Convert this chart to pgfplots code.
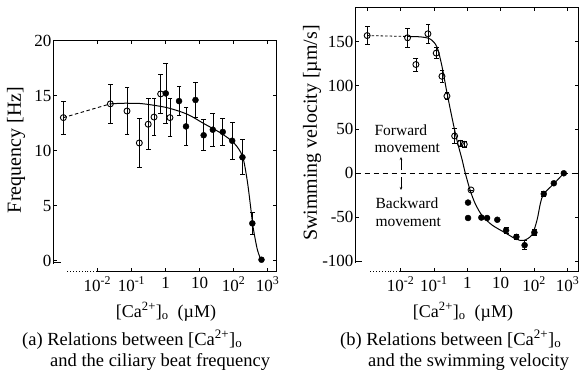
\documentclass[border=0pt]{standalone}
\usepackage{fontspec}
\setmainfont{Liberation Serif}
\usepackage{pgfplots}
\usepackage{pgfplotstable}
\pgfplotsset{compat=1.18}
\usetikzlibrary{arrows.meta}

% ---------- panel (a): ciliary beat frequency ----------
\pgfplotstableread{
x y e
0.001 13.0 1.5
0.024 14.25 1.8
0.074 13.6 2.1
0.17 10.7 2.2
0.31 12.4 2.3
0.46 13.05 1.7
0.72 15.15 1.8
1.35 13.0 1.7
}\aopen
\pgfplotstableread{
x y e
1.02 15.2 2.7
2.5 14.5 1.3
4.0 12.2 1.7
7.6 14.6 1.6
13.2 11.4 1.4
24.5 11.9 1.5
48 11.7 1.2
91 10.9 1.7
182 9.4 1.6
355 3.4 1.0
660 0.1 0
}\afilled
\pgfplotstableread{
x y
0.024 14.25
0.05 14.3
0.1 14.3
0.23 14.25
1.12 13.9
4.4 13.3
13.5 12.45
42 11.6
102 10.7
182 9.5
251 7.3
316 4.9
372 3.1
500 1.0
660 0
}\acurve

% ---------- panel (b): swimming velocity ----------
\pgfplotstableread{
x y e
0.001 157 10
0.0162 154.5 11
0.0288 124 7.5
0.066 159 11
0.117 137 6
0.174 110.6 6.5
0.245 88 4
0.417 42.5 9
0.617 34 3
0.81 33 3
1.29 -19 0
}\bopen
\pgfplotstableread{
x y e
1.05 -33.4 0
1.05 -51 0
2.63 -50.5 0
3.9 -51 0
7.9 -53 0
14.5 -65 3
29.5 -72.5 3
52 -82 5
102 -67.5 3
195 -23.5 3
390 -11.4 0
776 0 0
}\bfilled
\pgfplotstableread{
x y
0.0162 156
0.0398 155.5
0.0776 153
0.123 144
0.174 122
0.245 92
0.363 60
0.501 36
0.692 16
0.871 0
1.23 -20
1.74 -35
2.75 -48
5.5 -59
13.8 -68
28.8 -75
49 -76.6
87 -70
123 -53
155 -34
195 -23.5
389 -12
776 0
}\bcurve

\pgfplotsset{
  mypanel/.style={
    scale only axis, width=223pt, clip=false,
    axis line style={black, line width=1.2pt},
    tick align=inside, major tick length=3.5pt,
    xminorticks=false, yminorticks=false,
    tick style={line width=0.7pt, black},
    ticklabel style={font=\fontsize{17}{17}\selectfont},
    y tick label style={xshift=1.5pt},
    x tick label style={yshift=-2pt},
  },
  mybars/.style={error bars/y dir=both, error bars/y explicit,
    error bars/error mark=none,
    error bars/error bar style={line width=0.6pt}},
  myopen/.style={only marks, mark=o, mark size=3pt, line width=0.9pt,
    mark options={fill=white}, mybars},
  myfill/.style={only marks, mark=*, mark size=3pt, mybars},
  mycap/.style={black, only marks, mark=-, mark size=2.4pt, mark options={line width=0.8pt}},
}

\begin{document}
\begin{tikzpicture}
\useasboundingbox (0pt,0pt) rectangle (581pt,-373pt);

% ===== panel (a) =====
\begin{axis}[mypanel, xmode=log,
  at={(53.5pt,-271.5pt)}, anchor=south west, height=231pt,
  xmin=5.13e-4, xmax=1820, ymin=-0.97, ymax=20,
  xtick={1e-2,1e-1,1,10,100,1000},
  xticklabels={10\textsuperscript{-2},10\textsuperscript{-1},1,10,10\textsuperscript{2},10\textsuperscript{3}},
  ytick={0,5,10,15,20}, yticklabels={0,5,10,15,20},
]
\addplot[black, line width=0.9pt, dash pattern=on 3.5pt off 2.5pt] coordinates {(0.001,13.0) (0.024,14.25)};
\addplot[black, line width=1pt, smooth, tension=0.5] table {\acurve};
\addplot[mycap] table[x=x, y expr=\thisrow{y}+\thisrow{e}] {\aopen};
\addplot[mycap] table[x=x, y expr=\thisrow{y}-\thisrow{e}] {\aopen};
\addplot[mycap] table[x=x, y expr=\thisrow{y}+\thisrow{e}] {\afilled};
\addplot[mycap] table[x=x, y expr=\thisrow{y}-\thisrow{e}] {\afilled};
\addplot[black, myopen] table[x=x, y=y, y error=e] {\aopen};
\addplot[black, myfill] table[x=x, y=y, y error=e] {\afilled};
\end{axis}

% ===== panel (b) =====
\begin{axis}[mypanel, xmode=log,
  at={(355.5pt,-271.5pt)}, anchor=south west, height=264pt,
  xmin=4.47e-4, xmax=2138, ymin=-112, ymax=189,
  xtick={1e-3,1e-2,1e-1,1,10,100,1000},
  xticklabels={,10\textsuperscript{-2},10\textsuperscript{-1},1,10,10\textsuperscript{2},10\textsuperscript{3}},
  ytick={-100,-50,0,50,100,150}, yticklabels={-100,-50,0,50,100,150},
]
\addplot[black, line width=0.8pt, dash pattern=on 5pt off 4pt] coordinates {(4.47e-4,0) (2138,0)};
\addplot[black, line width=0.8pt, dash pattern=on 2.5pt off 2pt] coordinates {(0.001,157) (0.0162,156)};
\addplot[black, line width=1pt, smooth, tension=0.5] table {\bcurve};
\addplot[mycap] table[x=x, y expr=\thisrow{y}+\thisrow{e}] {\bopen};
\addplot[mycap] table[x=x, y expr=\thisrow{y}-\thisrow{e}] {\bopen};
\addplot[mycap] table[x=x, y expr=\thisrow{y}+\thisrow{e}] {\bfilled};
\addplot[mycap] table[x=x, y expr=\thisrow{y}-\thisrow{e}] {\bfilled};
\addplot[black, myopen] table[x=x, y=y, y error=e] {\bopen};
\addplot[black, myfill] table[x=x, y=y, y error=e] {\bfilled};
\end{axis}

% ===== broken bottom-left corner of each frame =====
\fill[white] (51.5pt,-263.5pt) rectangle (96.8pt,-274pt);
\draw[line width=1.2pt] (53.5pt,-263.5pt) -- (53.5pt,-262.5pt) -- (60.5pt,-262.5pt);
\draw[line width=0.9pt, dotted] (97pt,-271.5pt) -- (65.5pt,-271.5pt);
\fill[white] (353.5pt,-262.5pt) rectangle (399.8pt,-274pt);
\draw[line width=1.2pt] (355.5pt,-262.5pt) -- (355.5pt,-261.5pt) -- (361.5pt,-261.5pt);
\draw[line width=0.9pt, dotted] (400pt,-271.5pt) -- (368.5pt,-271.5pt);

% ===== annotations in (b) =====
\node[anchor=base west, font=\fontsize{15.5}{15.5}\selectfont] at (371pt,-135pt) {Forward};
\node[anchor=base west, font=\fontsize{15.5}{15.5}\selectfont] at (371pt,-152pt) {movement};
\draw[-{Stealth[length=3pt,width=2.5pt]}, line width=0.6pt] (401pt,-170pt) -- (401pt,-157pt);
\draw[-{Stealth[length=3pt,width=2.5pt]}, line width=0.6pt] (401pt,-177pt) -- (401pt,-190pt);
\node[anchor=base west, font=\fontsize{15.5}{15.5}\selectfont] at (372pt,-208pt) {Backward};
\node[anchor=base west, font=\fontsize{15.5}{15.5}\selectfont] at (372pt,-226pt) {movement};

% ===== axis labels =====
\node[rotate=90, font=\fontsize{20}{20}\selectfont] at (16pt,-150pt) {Frequency [Hz]};
\node[rotate=90, font=\fontsize{20}{20}\selectfont] at (312pt,-133pt) {Swimming velocity [µm/s]};
\node[anchor=base, font=\fontsize{18}{18}\selectfont] at (166pt,-317pt) {[Ca\textsuperscript{2+}]\textsubscript{o}\ \ (µM)};
\node[anchor=base, font=\fontsize{18}{18}\selectfont] at (463pt,-317pt) {[Ca\textsuperscript{2+}]\textsubscript{o}\ \ (µM)};

% ===== captions =====
\node[anchor=base west, inner sep=0pt, font=\fontsize{18.5}{18.5}\selectfont] at (22pt,-345pt) {(a) Relations between [Ca\textsuperscript{2+}]\textsubscript{o}};
\node[anchor=base west, inner sep=0pt, font=\fontsize{18.5}{18.5}\selectfont] at (50pt,-366pt) {and the ciliary beat frequency};
\node[anchor=base west, inner sep=0pt, font=\fontsize{18.5}{18.5}\selectfont] at (340pt,-345pt) {(b) Relations between [Ca\textsuperscript{2+}]\textsubscript{o}};
\node[anchor=base west, inner sep=0pt, font=\fontsize{18.5}{18.5}\selectfont] at (368pt,-366pt) {and the swimming velocity};
\end{tikzpicture}
\end{document}
